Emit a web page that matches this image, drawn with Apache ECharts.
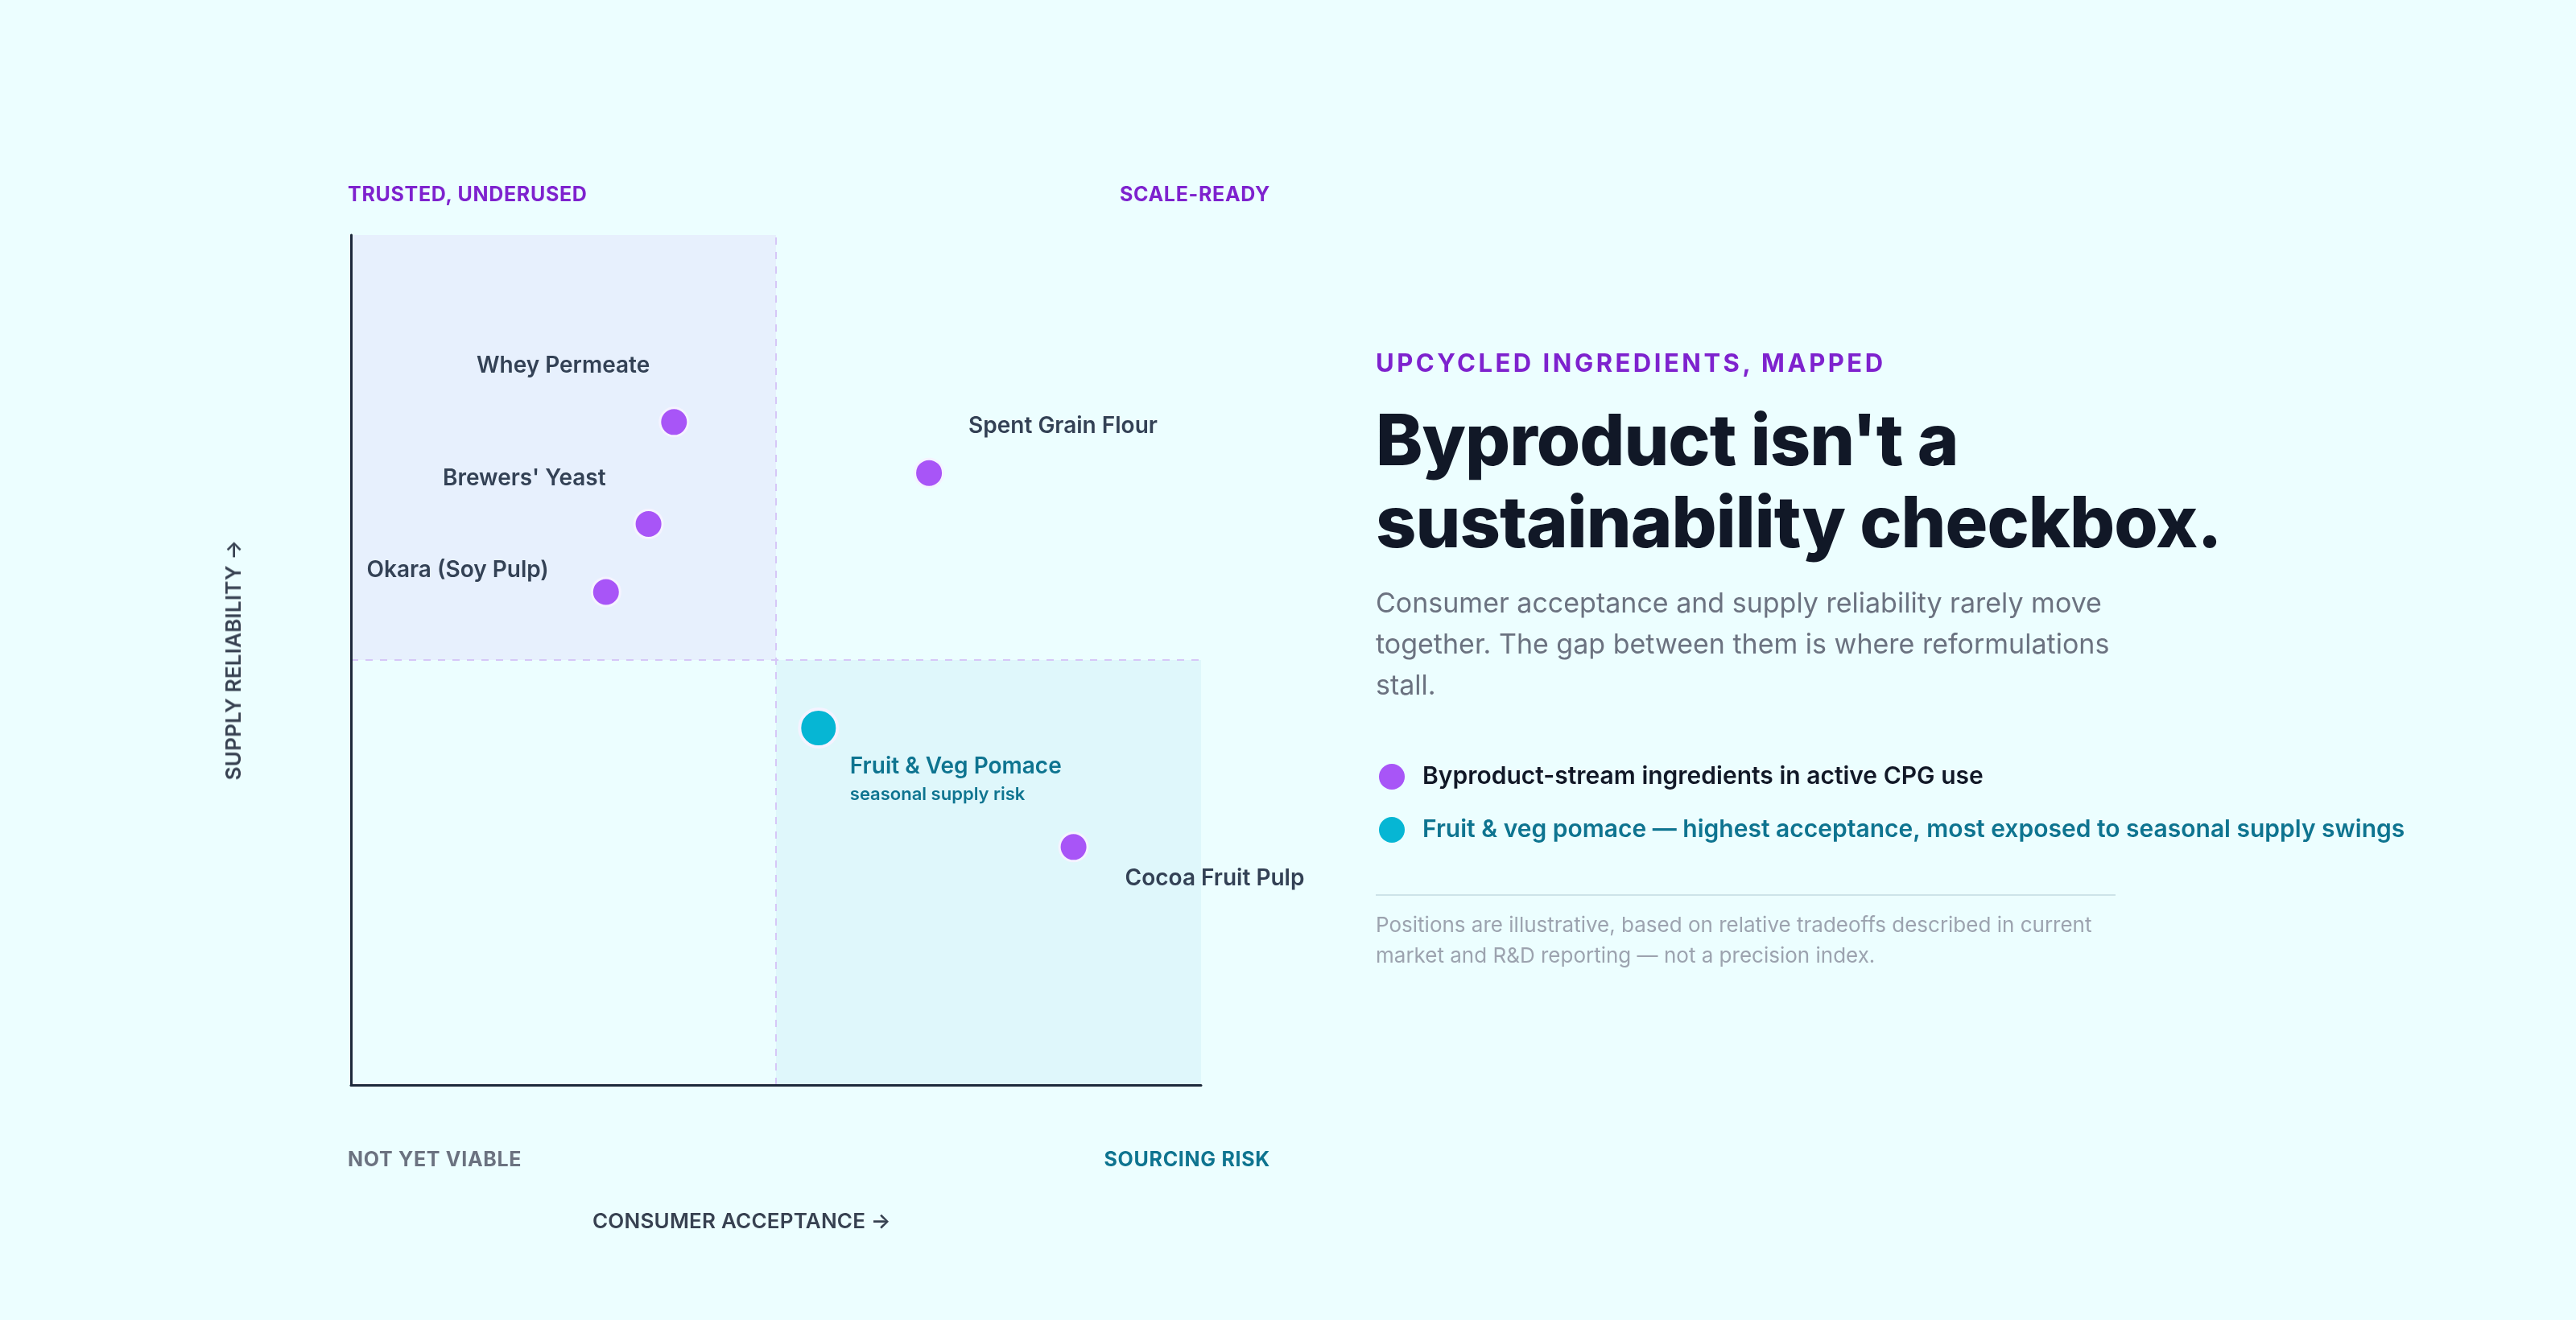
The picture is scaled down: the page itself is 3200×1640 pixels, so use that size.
<!DOCTYPE html>
<html>
<head>
<meta charset="utf-8">
<title>Upcycled ingredients, mapped</title>
<script src="https://cdn.jsdelivr.net/npm/echarts@6/dist/echarts.min.js"></script>
<style>
  html, body { margin: 0; padding: 0; background: #ecfeff; }
  #wrap { position: relative; width: 3200px; height: 1640px; font-family: Inter, "Noto Sans", sans-serif; overflow: hidden; }
  #chart { position: absolute; left: 0; top: 0; width: 3200px; height: 1640px; }
  .corner { position: absolute; font-size: 25px; font-weight: 700; letter-spacing: 0.7px; line-height: 30px; white-space: nowrap; }
  .axisname { position: absolute; font-size: 26px; font-weight: 600; color: #374151; line-height: 30px; white-space: nowrap; letter-spacing: 0.2px; }
  .panel { position: absolute; left: 1709px; white-space: nowrap; }
  #eyebrow { top: 434px; font-size: 31px; font-weight: 700; letter-spacing: 3.5px; color: #7e22ce; line-height: 34px; }
  #headline { top: 495px; font-size: 88px; font-weight: 800; letter-spacing: -0.95px; color: #111827; line-height: 102px; }
  #dek { top: 723px; font-size: 34px; font-weight: 400; color: #6b7280; line-height: 51px; }
  #rule { top: 1111px; width: 919px; height: 2px; background: #cde3e9; }
  #note { top: 1130px; font-size: 26px; font-weight: 400; color: #9ca3af; line-height: 38px; }
</style>
</head>
<body>
<div id="wrap">
  <div id="chart"></div>

  <div class="corner" style="left:432px; top:226px; color:#7e22ce;">TRUSTED, UNDERUSED</div>
  <div class="corner" style="right:1622px; top:226px; color:#7e22ce;">SCALE-READY</div>
  <div class="corner" style="left:432px; top:1425px; color:#6b7280;">NOT YET VIABLE</div>
  <div class="corner" style="right:1622px; top:1425px; color:#0e7490;">SOURCING RISK</div>

  <div class="axisname" style="left:736px; top:1502px;">CONSUMER ACCEPTANCE →</div>
  <div class="axisname" style="left:290px; top:820px; transform:translate(-50%,-50%) rotate(-90deg);">SUPPLY RELIABILITY →</div>

  <div class="panel" id="eyebrow">UPCYCLED INGREDIENTS, MAPPED</div>
  <div class="panel" id="headline">Byproduct isn't a<br>sustainability checkbox.</div>
  <div class="panel" id="dek">Consumer acceptance and supply reliability rarely move<br>together. The gap between them is where reformulations<br>stall.</div>
  <div class="panel" id="rule"></div>
  <div class="panel" id="note">Positions are illustrative, based on relative tradeoffs described in current<br>market and R&amp;D reporting — not a precision index.</div>
</div>

<script>
// ---- data ----
var ingredientNames = ['Whey Permeate', "Brewers' Yeast", 'Okara (Soy Pulp)', 'Spent Grain Flour', 'Cocoa Fruit Pulp'];
var ingredientAcceptance = [38, 35, 30, 68, 85];
var ingredientReliability = [78, 66, 58, 72, 28];

var pomaceNames = ['Fruit & Veg Pomace'];
var pomaceNotes = ['seasonal supply risk'];
var pomaceAcceptance = [55];
var pomaceReliability = [42];

var seriesNames = [
    'Byproduct-stream ingredients in active CPG use',
    'Fruit & veg pomace — highest acceptance, most exposed to seasonal supply swings'
];
var axisMin = 0;
var axisMax = 100;
var quadrantSplit = 50;

// where each point's label sits relative to its dot
var labelSpots = {
    'Whey Permeate':      {align: 'right', offset: [-30, -70]},
    "Brewers' Yeast":     {align: 'right', offset: [-53, -56]},
    'Okara (Soy Pulp)':   {align: 'right', offset: [-71, -27]},
    'Spent Grain Flour':  {align: 'left',  offset: [49, -58]},
    'Cocoa Fruit Pulp':   {align: 'left',  offset: [64, 39]}
};

var purple = '#a855f7';
var cyan = '#06b6d4';
var teal = '#0e7490';
var labelColor = '#334155';

var ingredientData = ingredientNames.map(function (n, i) {
    var spot = labelSpots[n];
    return {
        name: n,
        value: [ingredientAcceptance[i], ingredientReliability[i]],
        label: {
            show: true,
            position: 'inside',
            align: spot.align,
            verticalAlign: 'middle',
            offset: spot.offset,
            formatter: '{b}',
            color: labelColor,
            opacity: 1,
            fontFamily: 'Inter',
            fontSize: 28,
            fontWeight: 600
        }
    };
});

var pomaceData = pomaceNames.map(function (n, i) {
    return {
        name: n,
        value: [pomaceAcceptance[i], pomaceReliability[i]],
        label: {
            show: true,
            position: 'inside',
            align: 'left',
            verticalAlign: 'top',
            offset: [39, 30],
            opacity: 1,
            formatter: '{a|' + n + '}\n{s|' + pomaceNotes[i] + '}',
            rich: {
                a: {fontFamily: 'Inter', fontSize: 28, fontWeight: 600, color: teal, lineHeight: 36},
                s: {fontFamily: 'Inter', fontSize: 22, fontWeight: 600, color: teal, lineHeight: 34}
            }
        }
    };
});

var chart = echarts.init(document.getElementById('chart'));

var axisCommon = {
    type: 'value',
    min: axisMin,
    max: axisMax,
    z: 10,
    axisLine: {show: true, onZero: false, lineStyle: {color: '#1e293b', width: 3}},
    axisTick: {show: false},
    axisLabel: {show: false},
    splitLine: {show: false}
};

var option = {
    backgroundColor: 'transparent',
    animation: false,
    grid: {left: 436, top: 292, width: 1056, height: 1056, containLabel: false},
    xAxis: axisCommon,
    yAxis: axisCommon,
    legend: {
        left: 1708,
        top: 944,
        orient: 'vertical',
        icon: 'circle',
        itemWidth: 32,
        itemHeight: 32,
        itemGap: 34,
        selectedMode: false,
        itemStyle: {borderWidth: 0, opacity: 1},
        textStyle: {fontFamily: 'Inter', fontSize: 30, fontWeight: 600, lineHeight: 32, padding: [0, 0, 0, 17]},
        data: [
            {name: seriesNames[0], textStyle: {color: '#111827'}},
            {name: seriesNames[1], textStyle: {color: teal}}
        ]
    },
    series: [
        {
            name: seriesNames[0],
            type: 'scatter',
            symbolSize: 35,
            itemStyle: {color: purple, borderColor: '#f5f3ff', borderWidth: 3, opacity: 1},
            emphasis: {disabled: true},
            data: ingredientData,
            z: 5,
            markArea: {
                silent: true,
                data: [
                    [{xAxis: axisMin, yAxis: quadrantSplit, itemStyle: {color: '#e7f0fd', opacity: 1}}, {xAxis: quadrantSplit, yAxis: axisMax}],
                    [{xAxis: quadrantSplit, yAxis: axisMin, itemStyle: {color: '#dff7fb', opacity: 1}}, {xAxis: axisMax, yAxis: quadrantSplit}]
                ]
            },
            markLine: {
                silent: true,
                symbol: 'none',
                label: {show: false},
                lineStyle: {color: '#d6c7f7', width: 2, type: [9, 9], opacity: 1},
                data: [{xAxis: quadrantSplit}, {yAxis: quadrantSplit}]
            }
        },
        {
            name: seriesNames[1],
            type: 'scatter',
            symbolSize: 47,
            itemStyle: {color: cyan, borderColor: '#f5f3ff', borderWidth: 4, opacity: 1},
            emphasis: {disabled: true},
            data: pomaceData,
            z: 5
        }
    ]
};

chart.setOption(option);
</script>
</body>
</html>
